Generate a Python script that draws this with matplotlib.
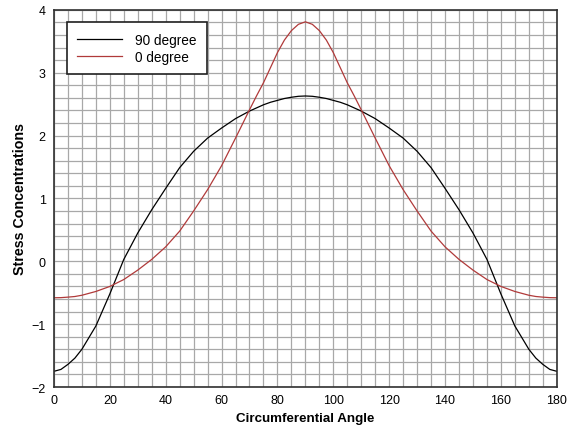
import numpy as np
import matplotlib
matplotlib.use('Agg')
import matplotlib.pyplot as plt

angle = [0, 2.5, 5, 7.5, 10, 15, 20, 25, 30, 35, 40, 45, 50, 55, 60, 65, 70, 72.5, 75, 77.5,
         80, 82.5, 85, 87.5, 90, 92.5, 95, 97.5, 100, 102.5, 105, 107.5, 110, 115, 120, 125,
         130, 135, 140, 145, 150, 155, 160, 165, 170, 172.5, 175, 177.5, 180]

deg90 = [-1.75, -1.72, -1.64, -1.54, -1.40, -1.03, -0.52, 0.03, 0.45, 0.82, 1.16, 1.49, 1.75,
         1.96, 2.12, 2.27, 2.39, 2.44, 2.49, 2.53, 2.56, 2.59, 2.61, 2.625, 2.63,
         2.625, 2.61, 2.59, 2.56, 2.53, 2.49, 2.44, 2.39, 2.27, 2.12, 1.96, 1.75, 1.49,
         1.16, 0.82, 0.45, 0.03, -0.52, -1.03, -1.40, -1.54, -1.64, -1.72, -1.75]

deg0 = [-0.58, -0.578, -0.57, -0.56, -0.54, -0.48, -0.40, -0.29, -0.14, 0.03, 0.23, 0.48, 0.80,
        1.14, 1.52, 1.96, 2.41, 2.63, 2.84, 3.08, 3.32, 3.52, 3.67, 3.77, 3.81,
        3.77, 3.67, 3.52, 3.32, 3.08, 2.84, 2.63, 2.41, 1.96, 1.52, 1.14, 0.80, 0.48,
        0.23, 0.03, -0.14, -0.29, -0.40, -0.48, -0.54, -0.56, -0.57, -0.578, -0.58]

fig = plt.figure(figsize=(5.8, 4.35), dpi=100)
ax = fig.add_axes([0.093, 0.108, 0.867, 0.867])

ax.plot(angle, deg90, color='black', lw=0.9, label='90 degree')
ax.plot(angle, deg0, color='#b03a3a', lw=0.9, label='0 degree')

ax.set_xlim(0, 180)
ax.set_ylim(-2, 4)
ax.set_xticks(np.arange(0, 181, 20))
ax.set_yticks(np.arange(-2, 5, 1))
ax.set_xticks(np.arange(0, 181, 5), minor=True)
ax.set_yticks(np.arange(-2, 4.01, 0.2), minor=True)
ax.grid(True, which='both', color='#a8a8a8', lw=0.9)
ax.set_axisbelow(True)
ax.tick_params(which='both', length=0)
ax.tick_params(axis='x', pad=5, labelsize=9)
ax.tick_params(axis='y', pad=6, labelsize=9)
for lab in ax.get_xticklabels() + ax.get_yticklabels():
    lab.set_family('Liberation Sans')
for s in ax.spines.values():
    s.set_color('#303030')
    s.set_linewidth(1.2)

ax.set_xlabel('Circumferential Angle', fontsize=9.6, fontweight='bold',
              family='Liberation Sans', labelpad=4)
ax.set_ylabel('Stress Concentrations', fontsize=10.3, fontweight='bold',
              family='Liberation Sans', labelpad=3)

leg = ax.legend(loc='upper left', bbox_to_anchor=(0.025, 0.967), fancybox=False,
                framealpha=1, edgecolor='#202020', borderpad=0.75, handlelength=3.3,
                handletextpad=1.0, labelspacing=0.25, borderaxespad=0,
                prop={'family': 'Liberation Sans', 'size': 9.8})
leg.get_frame().set_linewidth(1.2)

fig.savefig('out.png', dpi=100)
